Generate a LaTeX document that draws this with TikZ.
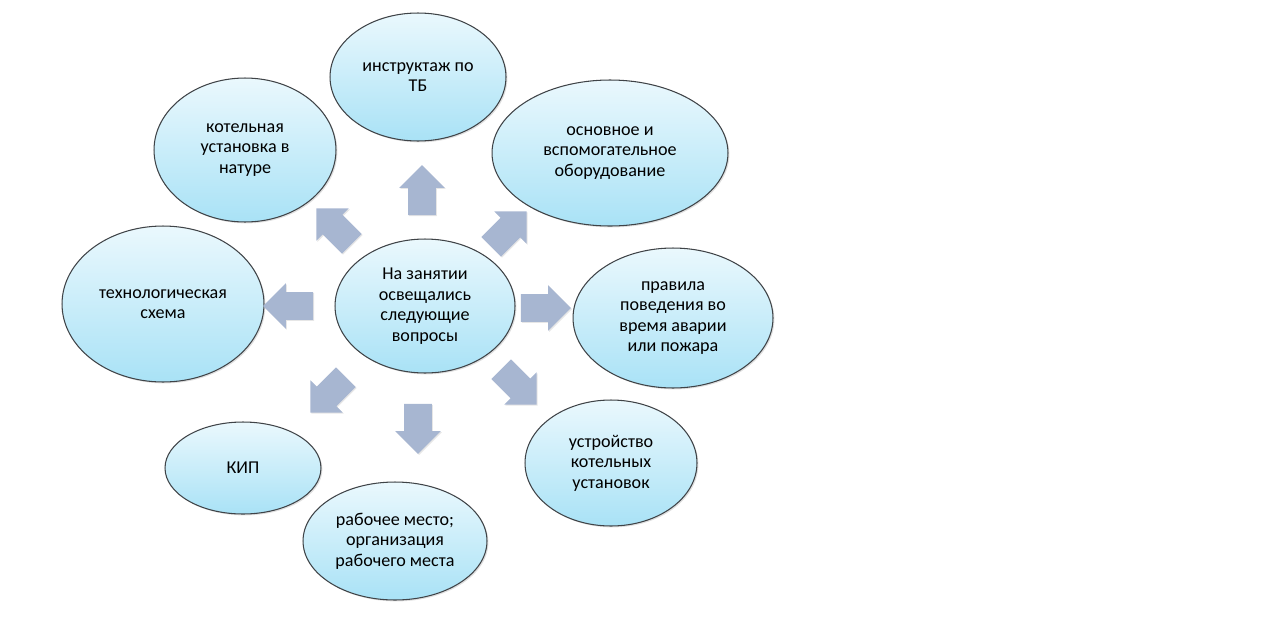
\documentclass[tikz,border=0pt]{standalone}
\usepackage{fontspec}
\setmainfont{Carlito}
\usetikzlibrary{shapes.geometric, shapes.arrows, shadows}
\definecolor{rimgray}{HTML}{3F4347}
\definecolor{skytop}{HTML}{EAF8FD}
\definecolor{skybot}{HTML}{A9E2F6}
\definecolor{arrowblue}{HTML}{A7B6D1}

\begin{document}
\begin{tikzpicture}[x=0.02cm, y=-0.02cm,
  topic/.style={ellipse, draw=rimgray, line width=0.6pt, top color=skytop, bottom color=skybot,
    inner sep=0pt, align=center, font=\fontsize{10.3}{11.7}\selectfont,
    drop shadow={opacity=0.25, shadow xshift=0.8pt, shadow yshift=-0.8pt}},
  pointer/.style={single arrow, fill=arrowblue, draw=none, inner xsep=0pt, inner ysep=0.27cm,
    minimum height=1cm, single arrow head extend=0.18cm,
    drop shadow={opacity=0.2, shadow xshift=0.6pt, shadow yshift=-0.6pt}}]
  \useasboundingbox (0,0) rectangle (1280,619);
  % centre
  \node[topic, minimum width=3.6cm, minimum height=2.68cm] (hub) at (425,306)
    {На занятии\\освещались\\следующие\\вопросы};
  % topics round the centre
  \node[topic, minimum width=3.52cm, minimum height=2.56cm] (tb) at (418,77) {инструктаж по\\ТБ};
  \node[topic, minimum width=3.64cm, minimum height=2.88cm] (boiler) at (245,150) {котельная\\установка в\\натуре};
  \node[topic, minimum width=4.72cm, minimum height=2.92cm] (equip) at (610,153) {основное и\\вспомогательное\\оборудование};
  \node[topic, minimum width=4.0cm, minimum height=2.8cm] (rules) at (673,318) {правила\\поведения во\\время аварии\\или пожара};
  \node[topic, minimum width=4.04cm, minimum height=3.12cm] (scheme) at (163,304) {технологическая\\схема};
  \node[topic, minimum width=3.12cm, minimum height=1.84cm] (kip) at (243,468) {КИП};
  \node[topic, minimum width=3.68cm, minimum height=2.36cm] (work) at (395,541) {рабочее место;\\организация\\рабочего места};
  \node[topic, minimum width=3.44cm, minimum height=2.52cm] (device) at (611,463) {устройство\\котельных\\установок};
  % block arrows
  \node[pointer, rotate=90] (pup) at (422,197) {};
  \node[pointer, rotate=45] (pur) at (504,234) {};
  \node[pointer, rotate=0] (pr) at (539,308) {};
  \node[pointer, rotate=-45] (pdr) at (514,382) {};
  \node[pointer, rotate=-90] (pd) at (418,422) {};
  \node[pointer, rotate=-135] (pdl) at (333,390) {};
  \node[pointer, rotate=180] (pl) at (295,306) {};
  \node[pointer, rotate=135] (pul) at (339,231) {};
\end{tikzpicture}
\end{document}
